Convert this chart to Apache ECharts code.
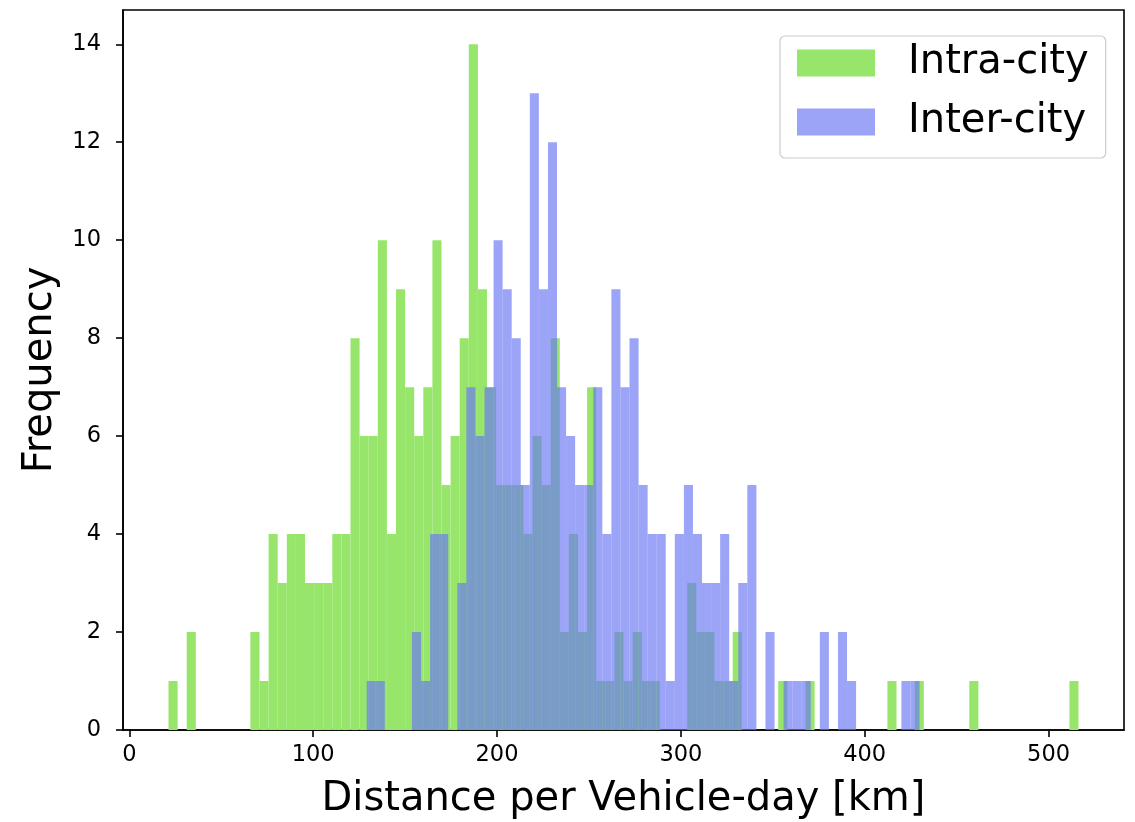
<!DOCTYPE html>
<html>
<head>
<meta charset="utf-8">
<title>Distance per Vehicle-day</title>
<script src="https://cdn.jsdelivr.net/npm/echarts@6/dist/echarts.min.js"></script>
<style>
  html, body { margin: 0; padding: 0; background: #ffffff; }
  #chart { width: 1135px; height: 822px; }
</style>
</head>
<body>
<div id="chart"></div>
<script>
// Histogram bins (km): first edge and width, then the count in each bin
const intraStart = 21.3;
const intraWidth = 4.95;
const intraCounts = [
  1, 0, 2, 0, 0, 0, 0, 0, 0, 2,
  1, 4, 3, 4, 4, 3, 3, 3, 4, 4,
  8, 6, 6, 10, 4, 9, 7, 6, 7, 10,
  5, 6, 8, 14, 9, 7, 5, 5, 5, 4,
  6, 5, 8, 2, 4, 2, 7, 1, 1, 2,
  1, 2, 1, 1, 0, 0, 0, 3, 2, 2,
  1, 1, 2, 0, 0, 0, 0, 1, 0, 0,
  1, 0, 0, 0, 0, 0, 0, 0, 0, 1,
  0, 0, 1, 0, 0, 0, 0, 0, 1, 0,
  0, 0, 0, 0, 0, 0, 0, 0, 0, 1
];

const interStart = 129.1;
const interWidth = 4.93;
const interCounts = [
  1, 1, 0, 0, 0, 2, 1, 4, 4, 0,
  3, 7, 6, 7, 10, 9, 8, 5, 13, 9,
  12, 7, 6, 5, 5, 7, 4, 9, 7, 8,
  5, 4, 4, 1, 4, 5, 4, 3, 3, 4,
  1, 3, 5, 0, 2, 0, 1, 1, 1, 0,
  2, 0, 2, 1, 0, 0, 0, 0, 0, 1,
  1
];

const seriesNames = ['Intra-city', 'Inter-city'];
const xTicks = [0, 100, 200, 300, 400, 500];
const yTicks = [0, 2, 4, 6, 8, 10, 12, 14];
const xTitle = 'Distance per Vehicle-day [km]';
const yTitle = 'Frequency';

// [left edge, right edge, count] for every bin
function toBins(start, width, counts) {
  return counts.map((c, i) => [start + i * width, start + (i + 1) * width, c]);
}

function renderBin(params, api) {
  const x0 = api.value(0), x1 = api.value(1), c = api.value(2);
  if (c <= 0) return null;
  const p0 = api.coord([x0, c]);
  const p1 = api.coord([x1, 0]);
  return {
    type: 'rect',
    shape: { x: p0[0], y: p0[1], width: p1[0] - p0[0], height: p1[1] - p0[1] },
    style: { fill: api.visual('color') }
  };
}

const FONT = 'DejaVu Sans';
const chart = echarts.init(document.getElementById('chart'), null, { renderer: 'canvas' });

chart.setOption({
  animation: false,
  backgroundColor: '#ffffff',
  grid: {
    left: 123, right: 11, top: 10, bottom: 92,
    outerBoundsMode: 'none',
    containLabel: false,
    show: true, borderColor: '#000000', borderWidth: 1.6, backgroundColor: 'transparent'
  },
  legend: {
    orient: 'vertical',
    left: 780, top: 36,
    padding: [7, 17, 16, 17],
    itemWidth: 78, itemHeight: 27, itemGap: 19,
    backgroundColor: '#ffffff',
    borderColor: '#cccccc', borderWidth: 1.2, borderRadius: 5,
    icon: 'rect',
    textStyle: { fontFamily: FONT, fontSize: 40, color: '#000000', lineHeight: 40, padding: [0, 0, 0, 28] },
    data: seriesNames
  },
  xAxis: {
    type: 'value',
    min: -3.45, max: 541.05,
    name: xTitle, nameLocation: 'middle', nameGap: 50,
    nameTextStyle: { fontFamily: FONT, fontSize: 40, color: '#000000' },
    axisLine: { show: true, onZero: false, lineStyle: { color: '#000000', width: 1.6 } },
    axisTick: { show: true, inside: false, length: 7, lineStyle: { color: '#000000', width: 1.6 }, customValues: xTicks },
    axisLabel: { fontFamily: FONT, fontSize: 22.5, color: '#000000', margin: 14, customValues: xTicks },
    splitLine: { show: false }
  },
  yAxis: {
    type: 'value',
    min: 0, max: 14.7,
    name: yTitle, nameLocation: 'middle', nameGap: 62,
    nameTextStyle: { fontFamily: FONT, fontSize: 40, color: '#000000' },
    axisLine: { show: true, onZero: false, lineStyle: { color: '#000000', width: 1.6 } },
    axisTick: { show: true, inside: false, length: 7, lineStyle: { color: '#000000', width: 1.6 }, customValues: yTicks },
    axisLabel: { fontFamily: FONT, fontSize: 22.5, color: '#000000', margin: 22, customValues: yTicks },
    splitLine: { show: false }
  },
  series: [
    {
      name: seriesNames[0],
      type: 'custom',
      renderItem: renderBin,
      itemStyle: { color: 'rgb(151,230,107)' },
      encode: { x: [0, 1], y: 2 },
      data: toBins(intraStart, intraWidth, intraCounts),
      z: 2
    },
    {
      name: seriesNames[1],
      type: 'custom',
      renderItem: renderBin,
      itemStyle: { color: 'rgba(108,121,243,0.68)' },
      encode: { x: [0, 1], y: 2 },
      data: toBins(interStart, interWidth, interCounts),
      z: 3
    }
  ]
});
</script>
</body>
</html>
